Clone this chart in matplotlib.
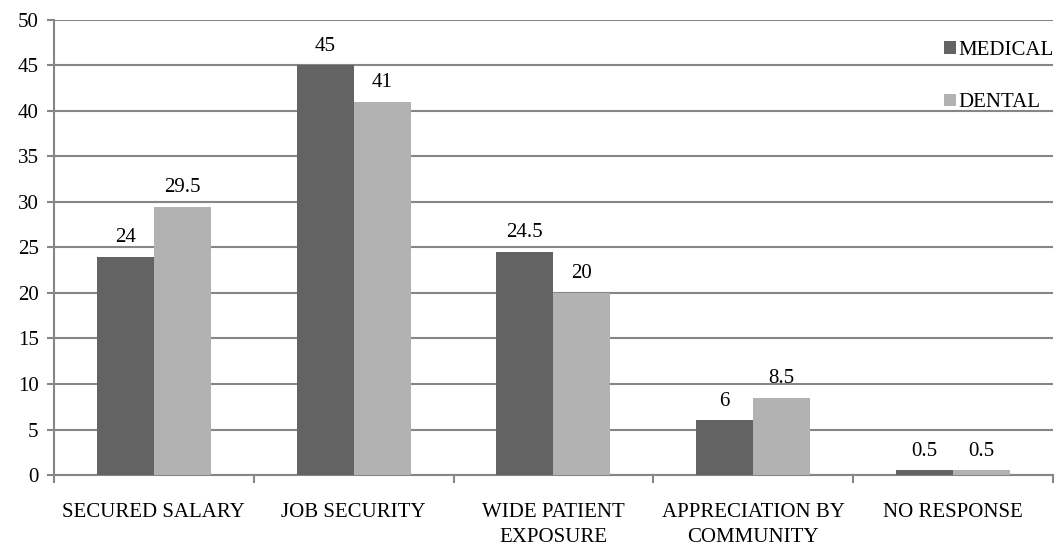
import matplotlib.pyplot as plt
import numpy as np

plt.rcParams['font.family'] = ['Liberation Serif', 'DejaVu Serif']

categorias = ["SECURED SALARY", "JOB SECURITY", "WIDE PATIENT\nEXPOSURE",
              "APPRECIATION BY\nCOMMUNITY", "NO RESPONSE"]
medical = [24, 45, 24.5, 6, 0.5]
dental = [29.5, 41, 20, 8.5, 0.5]
etiquetas_medical = ["24", "45", "24.5", "6", "0.5"]
etiquetas_dental = ["29.5", "41", "20", "8.5", "0.5"]

gris = "#868686"
tam = 15

fig = plt.figure(figsize=(10.56, 5.45), dpi=100)
ax = fig.add_axes([0.0511, 0.1284, 0.9459, 0.835])

x = np.arange(len(categorias))
ancho = 0.285
b1 = ax.bar(x - ancho / 2, medical, ancho, color="#636363", label="MEDICAL", zorder=3)
b2 = ax.bar(x + ancho / 2, dental, ancho, color="#b2b2b2", label="DENTAL", zorder=3)

for barras, textos in ((b1, etiquetas_medical), (b2, etiquetas_dental)):
    for b, t in zip(barras, textos):
        ax.annotate(t, (b.get_x() + b.get_width() / 2, b.get_height()),
                    xytext=(0, 7), textcoords="offset points",
                    ha="center", va="bottom", fontsize=tam)

ax.set_ylim(0, 50)
ax.set_xlim(-0.5, len(categorias) - 0.5)
ax.set_yticks(np.arange(0, 51, 5))
ax.yaxis.grid(True, color=gris, linewidth=1.5, zorder=0)
ax.set_axisbelow(True)

# ticks del eje x en los bordes de cada categoria
ax.set_xticks(np.arange(-0.5, len(categorias)), minor=False)
ax.set_xticklabels([])
ax.set_xticks(x, minor=True)
ax.set_xticklabels(categorias, minor=True, fontsize=tam, linespacing=1.45)
ax.tick_params(axis="x", which="minor", length=0, pad=20)
ax.tick_params(axis="x", which="major", length=6, color=gris, width=1.5)
ax.tick_params(axis="y", length=5, color=gris, width=1.5, labelsize=tam, pad=6)

for lado in ("top", "right"):
    ax.spines[lado].set_visible(False)
for lado in ("left", "bottom"):
    ax.spines[lado].set_color(gris)
    ax.spines[lado].set_linewidth(1.5)

ax.legend(loc="upper right", bbox_to_anchor=(1.02, 0.995), frameon=False,
          fontsize=tam, handlelength=0.55, handleheight=0.55, handletextpad=0.15,
          labelspacing=1.6)

fig.savefig("out.png", dpi=100)
